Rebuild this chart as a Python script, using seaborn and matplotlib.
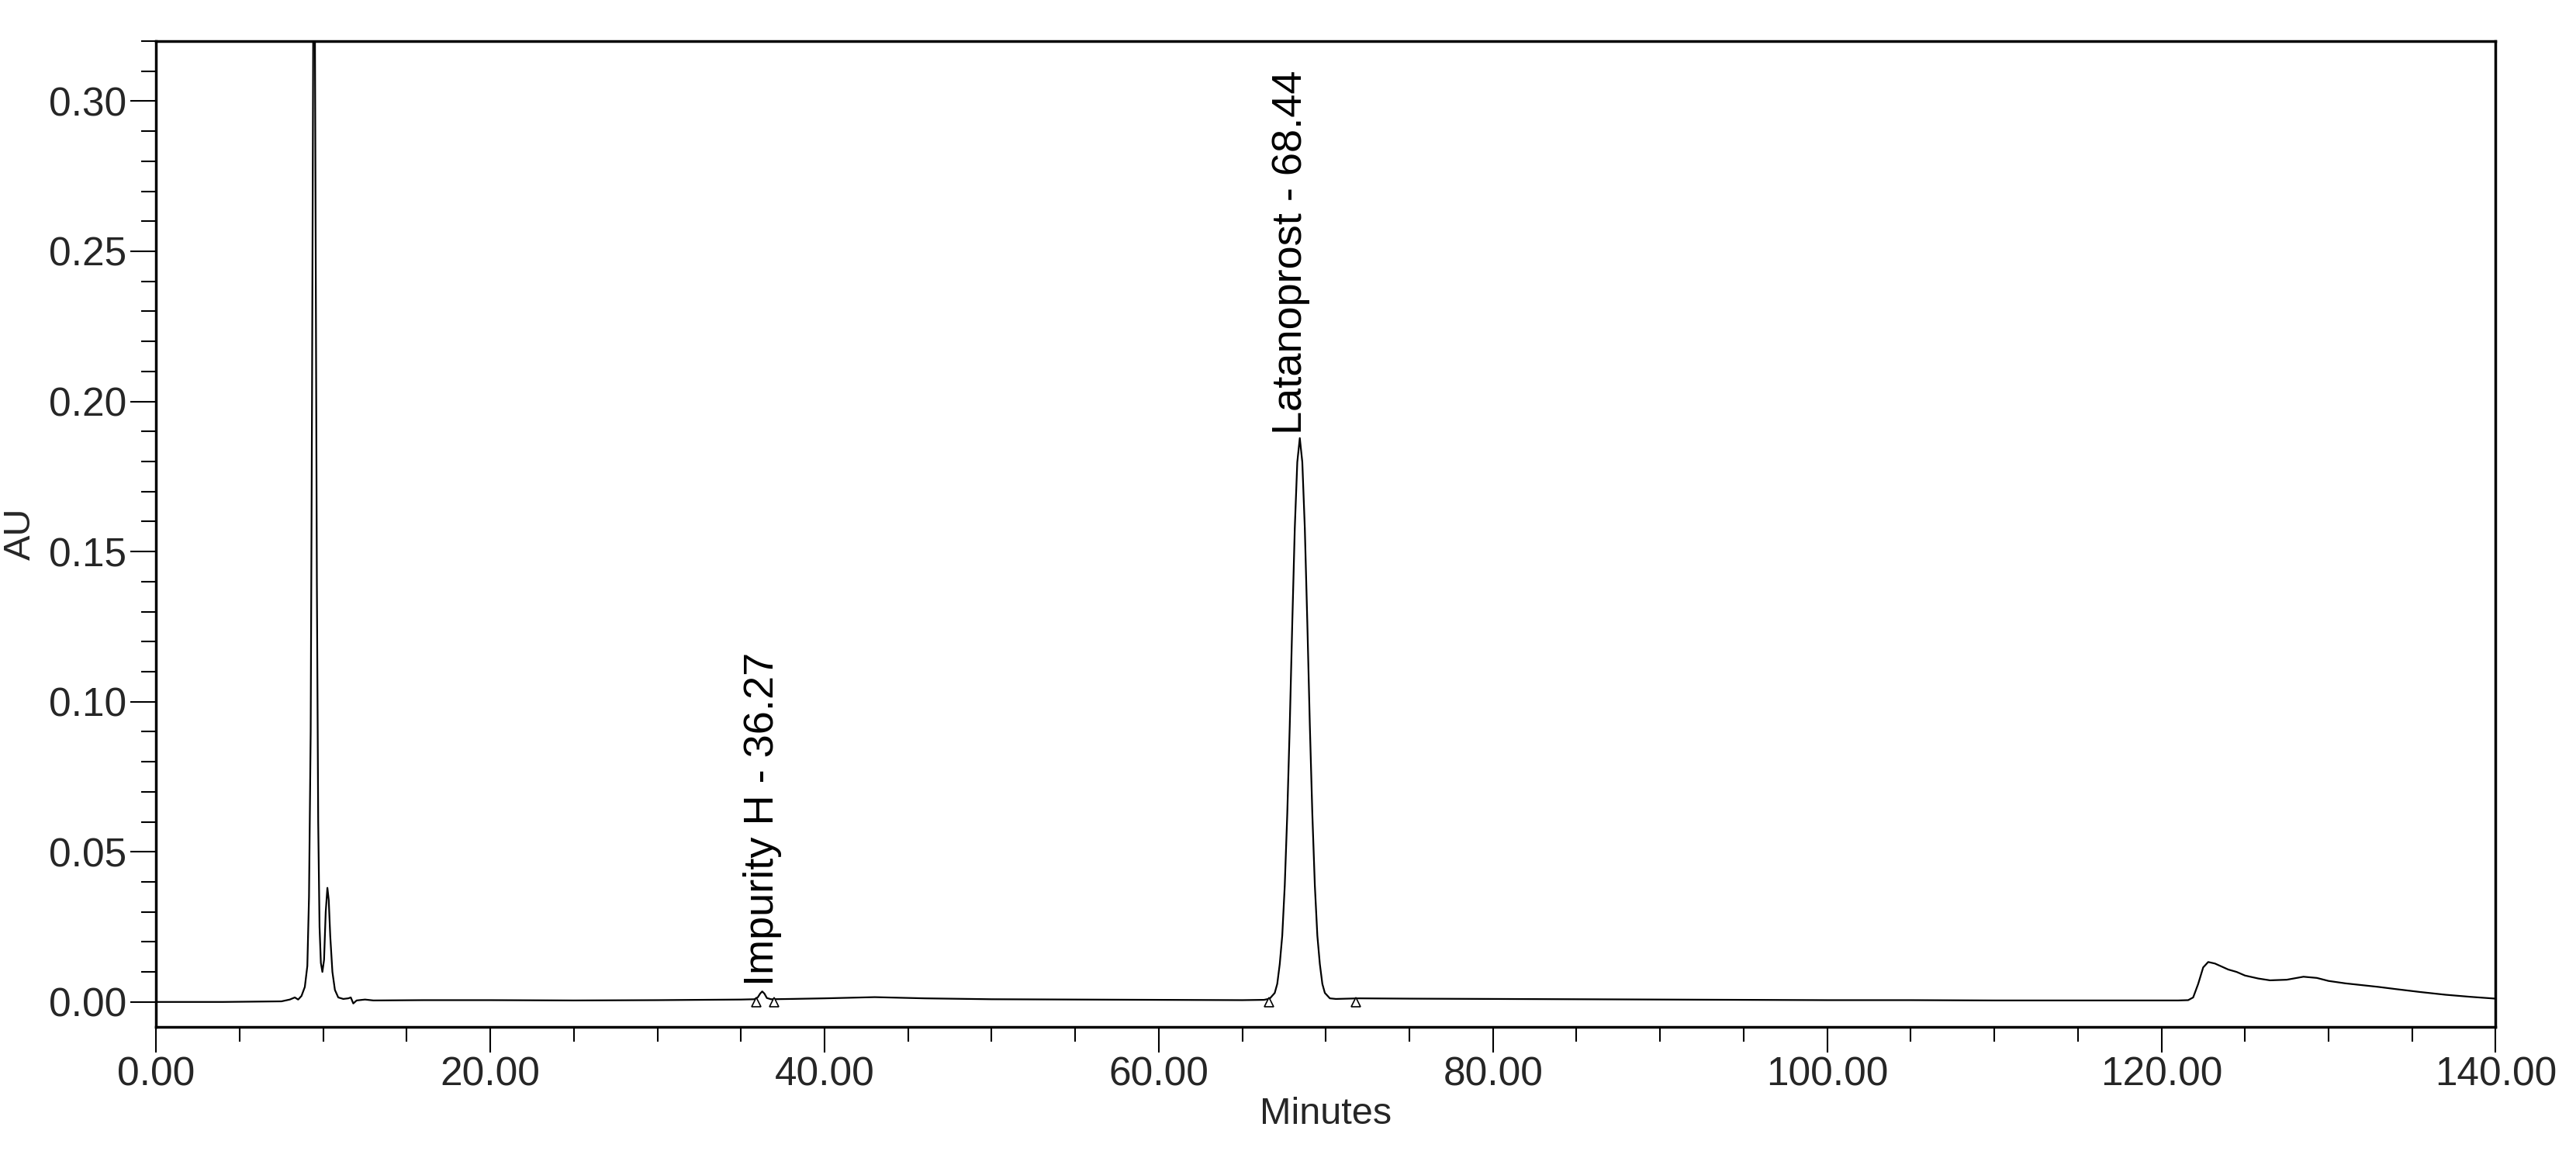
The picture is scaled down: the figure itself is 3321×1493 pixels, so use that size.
import matplotlib
matplotlib.use("Agg")
import matplotlib.pyplot as plt
import seaborn as sns
import pandas as pd
from matplotlib.ticker import MultipleLocator, FormatStrFormatter

minutes = [0.0, 4.0, 7.5, 8.0, 8.3, 8.5, 8.7, 8.9, 9.05, 9.15, 9.25, 9.33, 9.40, 9.45, 9.50, 9.55, 9.62, 9.70, 9.78, 9.86,
           9.95, 10.05, 10.15, 10.25, 10.33, 10.42, 10.55, 10.7, 10.9, 11.2, 11.5, 11.65, 11.8, 12.0, 12.5, 13.0, 16.0, 20.0,
           25.0, 30.0, 35.0, 35.8, 36.0, 36.15, 36.27, 36.4, 36.55, 36.8, 38.0, 40.0, 43.0, 46.0, 50.0, 55.0, 60.0, 65.0,
           66.3, 66.64, 66.94, 67.09, 67.24, 67.39, 67.54, 67.69, 67.84, 67.99, 68.14, 68.29, 68.44,
           68.59, 68.74, 68.89, 69.04, 69.19, 69.34, 69.49, 69.64, 69.79, 69.94, 70.24, 70.6,
           72.0, 75.0, 80.0, 85.0, 90.0, 95.0, 100.0, 105.0, 110.0, 115.0, 121.0, 121.6, 121.9, 122.2, 122.5, 122.8,
           123.2, 123.6, 124.0, 124.5, 125.0, 125.8, 126.5, 127.5, 128.5, 129.3, 130.0, 131.0, 132.0, 133.0, 134.0,
           135.5, 137.0, 138.5, 140.0]
au = [0.0, 0.0, 0.0002, 0.0008, 0.0015, 0.0008, 0.002, 0.005, 0.012, 0.035, 0.09, 0.2, 0.32, 0.33, 0.33, 0.25, 0.14, 0.06, 0.025, 0.013,
      0.010, 0.014, 0.030, 0.038, 0.034, 0.022, 0.010, 0.004, 0.0015, 0.001, 0.0012, 0.0015, -0.0005, 0.0005, 0.0008, 0.0005, 0.0006, 0.0006,
      0.0005, 0.0006, 0.0008, 0.0009, 0.0015, 0.0028, 0.0035, 0.0028, 0.0013, 0.0009, 0.001, 0.0012, 0.0016, 0.0012, 0.0009, 0.0008, 0.0007, 0.0006,
      0.0007, 0.0011, 0.0030, 0.0060, 0.0126, 0.0221, 0.0388, 0.0626, 0.0923, 0.1263, 0.1578, 0.1798, 0.1878,
      0.1798, 0.1578, 0.1263, 0.0923, 0.0626, 0.0388, 0.0221, 0.0126, 0.0060, 0.0030, 0.0012, 0.0010,
      0.0012, 0.0011, 0.0010, 0.0009, 0.0008, 0.0007, 0.0006, 0.0006, 0.0005, 0.0005, 0.0005, 0.0006, 0.0015, 0.006, 0.0115, 0.0133,
      0.0128, 0.0118, 0.0108, 0.0100, 0.0088, 0.0078, 0.0072, 0.0074, 0.0084, 0.0080, 0.0070, 0.0062, 0.0056, 0.0050, 0.0043,
      0.0033, 0.0024, 0.0017, 0.0011]

mark_x = [35.9, 37.0, 66.6, 71.8]
mark_y = [0.0, 0.0, 0.0, 0.0]
peak_labels = ["Impurity H - 36.27", "Latanoprost - 68.44"]
label_x = [36.3, 67.9]
label_y = [0.0055, 0.189]

sns.set_theme(style="white")
plt.rcParams['font.family'] = ['Liberation Sans', 'DejaVu Sans']

fig = plt.figure(figsize=(33.21, 14.93), dpi=100)
ax = fig.add_axes([0.0606, 0.1135, 0.9082, 0.851])
df = pd.DataFrame({"Minutes": minutes, "AU": au})
sns.lineplot(data=df, x="Minutes", y="AU", ax=ax, color="black", linewidth=1.6, sort=False)
ax.plot(mark_x, mark_y, linestyle="none", marker="^", markersize=9, markerfacecolor="white",
        markeredgecolor="black", markeredgewidth=1.2)
for t, x, y in zip(peak_labels, label_x, label_y):
    ax.text(x, y, t, rotation=90, ha="center", va="bottom", fontsize=39, color="black")

ax.set_xlim(0, 140)
ax.set_ylim(-0.0082, 0.320)
ax.xaxis.set_major_locator(MultipleLocator(20))
ax.xaxis.set_minor_locator(MultipleLocator(5))
ax.yaxis.set_major_locator(MultipleLocator(0.05))
ax.yaxis.set_minor_locator(MultipleLocator(0.01))
ax.xaxis.set_major_formatter(FormatStrFormatter("%.2f"))
ax.yaxis.set_major_formatter(FormatStrFormatter("%.2f"))
ax.tick_params(axis="both", which="major", direction="out", length=24, width=1.5, labelsize=37, color="black", bottom=True, left=True)
ax.tick_params(axis="both", which="minor", direction="out", length=14, width=1.5, color="black", bottom=True, left=True)
for s in ax.spines.values():
    s.set_color("black")
    s.set_linewidth(2.5)
ax.set_xlabel("Minutes", fontsize=35, labelpad=2)
ax.set_ylabel("AU", fontsize=35, labelpad=10)
fig.savefig("out.png", dpi=100, facecolor="white")
